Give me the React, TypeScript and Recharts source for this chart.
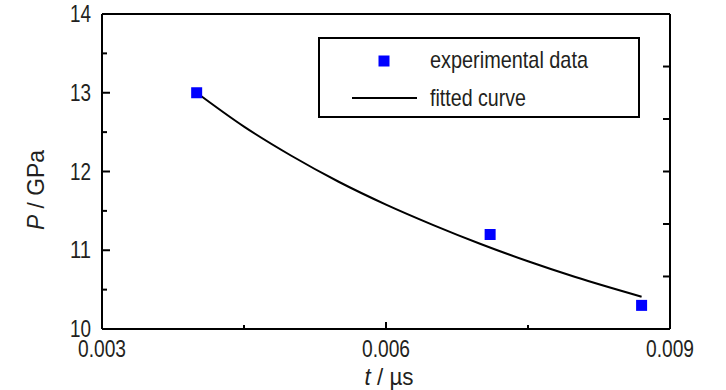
import React from 'react';
import { ComposedChart, Line, Scatter, XAxis, YAxis, Legend } from 'recharts';

const expT = [0.004, 0.0071, 0.0087];
const expP = [13.0, 11.2, 10.3];
const fitT = [0.004, 0.0045, 0.005, 0.0055, 0.006, 0.0065, 0.007, 0.0075, 0.008, 0.0087];
const fitP = [13.0, 12.57, 12.2, 11.87, 11.58, 11.32, 11.08, 10.86, 10.66, 10.41];
const xMajorTicks = [0.003, 0.006, 0.009];
const xMinorTicks = [0.0045, 0.0075];
const xTopTicks = [0.0036, 0.0042, 0.0048, 0.0054, 0.006, 0.0066, 0.0072, 0.0078, 0.0084];
const yMajorTicks = [10, 11, 12, 13, 14];
const yMinorTicks = [10.5, 11.5, 12.5, 13.5];
const yRightTicks = [10.667, 11.333, 12, 12.667, 13.333];
const xLabels = ['0.003', '0.006', '0.009'];
const yLabels = ['10', '11', '12', '13', '14'];

const points = expT.map((t, i) => ({ t, p: expP[i] }));
const curve = fitT.map((t, i) => ({ t, p: fitP[i] }));

const FONT = '"Liberation Sans", Arial, sans-serif';
const TEXT = '#231f20';

const near = (a: number, b: number) => Math.abs(a - b) < 1e-9;

const BottomTick = (props: any) => {
  const { x, y, payload } = props;
  const idx = xMajorTicks.findIndex((v) => near(v, payload.value));
  const major = idx >= 0;
  return (
    <g>
      <line x1={x} y1={y} x2={x} y2={y - (major ? 7 : 4)} stroke="#000" strokeWidth={2} />
      {major && (
        <text
          x={x}
          y={y + 28}
          textAnchor="middle"
          fontSize={23}
          fontFamily={FONT}
          fill={TEXT}
          textLength={48}
          lengthAdjust="spacingAndGlyphs"
        >
          {xLabels[idx]}
        </text>
      )}
    </g>
  );
};

const LeftTick = (props: any) => {
  const { x, y, payload } = props;
  const idx = yMajorTicks.findIndex((v) => near(v, payload.value));
  const major = idx >= 0;
  return (
    <g>
      <line x1={x} y1={y} x2={x + (major ? 8 : 5)} y2={y} stroke="#000" strokeWidth={2} />
      {major && (
        <text
          x={x - 11}
          y={y + 8}
          textAnchor="end"
          fontSize={23}
          fontFamily={FONT}
          fill={TEXT}
          textLength={21}
          lengthAdjust="spacingAndGlyphs"
        >
          {yLabels[idx]}
        </text>
      )}
    </g>
  );
};

const TopTick = (props: any) => {
  const { x, y } = props;
  return <line x1={x} y1={y} x2={x} y2={y + 6} stroke="#000" strokeWidth={2} />;
};

const RightTick = (props: any) => {
  const { x, y } = props;
  return <line x1={x} y1={y} x2={x - 7} y2={y} stroke="#000" strokeWidth={2} />;
};

const SquareDot = (props: any) => {
  const { cx, cy } = props;
  return <rect x={cx - 5.5} y={cy - 5.5} width={11} height={11} fill="#0000ff" />;
};

const LegendBox = () => (
  <svg width={322} height={81} style={{ display: 'block' }}>
    <rect x={1} y={1} width={320} height={79} fill="#fff" stroke="#000" strokeWidth={2} />
    <rect x={60.5} y={18.5} width={11} height={11} fill="#0000ff" />
    <line x1={34} y1={61} x2={99} y2={61} stroke="#000" strokeWidth={2} />
    <text x={112} y={31} fontSize={24} fontFamily={FONT} fill={TEXT} textLength={158} lengthAdjust="spacingAndGlyphs">
      experimental data
    </text>
    <text x={112} y={69} fontSize={24} fontFamily={FONT} fill={TEXT} textLength={96} lengthAdjust="spacingAndGlyphs">
      fitted curve
    </text>
  </svg>
);

const YTitle = () => (
  <text
    x={44}
    y={190}
    transform="rotate(-90 44 190)"
    textAnchor="middle"
    fontSize={24}
    fontFamily={FONT}
    fill={TEXT}
    textLength={80}
    lengthAdjust="spacingAndGlyphs"
  >
    <tspan fontStyle="italic">P</tspan>
    <tspan> / GPa</tspan>
  </text>
);

const XTitle = () => (
  <text
    x={389}
    y={385}
    textAnchor="middle"
    fontSize={24}
    fontFamily={FONT}
    fill={TEXT}
    textLength={49}
    lengthAdjust="spacingAndGlyphs"
  >
    <tspan fontStyle="italic">t</tspan>
    <tspan> / µs</tspan>
  </text>
);

export default function App() {
  return (
    <div style={{ position: 'absolute', left: 0, top: 0, width: 726, height: 390, background: '#fff' }}>
      <ComposedChart width={726} height={390} margin={{ top: 0, right: 0, bottom: 0, left: 0 }}>
        <XAxis
          dataKey="t"
          type="number"
          domain={[0.003, 0.009]}
          ticks={[...xMajorTicks, ...xMinorTicks]}
          allowDataOverflow
          height={61}
          axisLine={{ stroke: '#000', strokeWidth: 2 }}
          tickLine={false}
          tickSize={0}
          tickMargin={0}
          tick={<BottomTick />}
          interval={0}
          label={{ content: () => <XTitle /> }}
        />
        <XAxis
          xAxisId="top"
          orientation="top"
          type="number"
          domain={[0.003, 0.009]}
          ticks={xTopTicks}
          allowDataOverflow
          height={14}
          axisLine={{ stroke: '#000', strokeWidth: 2 }}
          tickLine={false}
          tickSize={0}
          tickMargin={0}
          tick={<TopTick />}
          interval={0}
        />
        <YAxis
          type="number"
          domain={[10, 14]}
          ticks={[...yMajorTicks, ...yMinorTicks]}
          allowDataOverflow
          width={102}
          axisLine={{ stroke: '#000', strokeWidth: 2 }}
          tickLine={false}
          tickSize={0}
          tickMargin={0}
          tick={<LeftTick />}
          interval={0}
          label={{ content: () => <YTitle /> }}
        />
        <YAxis
          yAxisId="right"
          orientation="right"
          type="number"
          domain={[10, 14]}
          ticks={yRightTicks}
          allowDataOverflow
          width={56}
          axisLine={{ stroke: '#000', strokeWidth: 2 }}
          tickLine={false}
          tickSize={0}
          tickMargin={0}
          tick={<RightTick />}
          interval={0}
        />
        <Legend
          layout="vertical"
          align="center"
          verticalAlign="middle"
          content={() => <LegendBox />}
          wrapperStyle={{ position: 'absolute', left: 318, top: 37, width: 322, height: 81 }}
        />
        <Line
          data={curve}
          dataKey="p"
          type="monotone"
          stroke="#000"
          strokeWidth={2}
          dot={false}
          activeDot={false}
          isAnimationActive={false}
          legendType="none"
        />
        <Scatter data={points} dataKey="p" shape={<SquareDot />} isAnimationActive={false} legendType="none" />
      </ComposedChart>
    </div>
  );
}
